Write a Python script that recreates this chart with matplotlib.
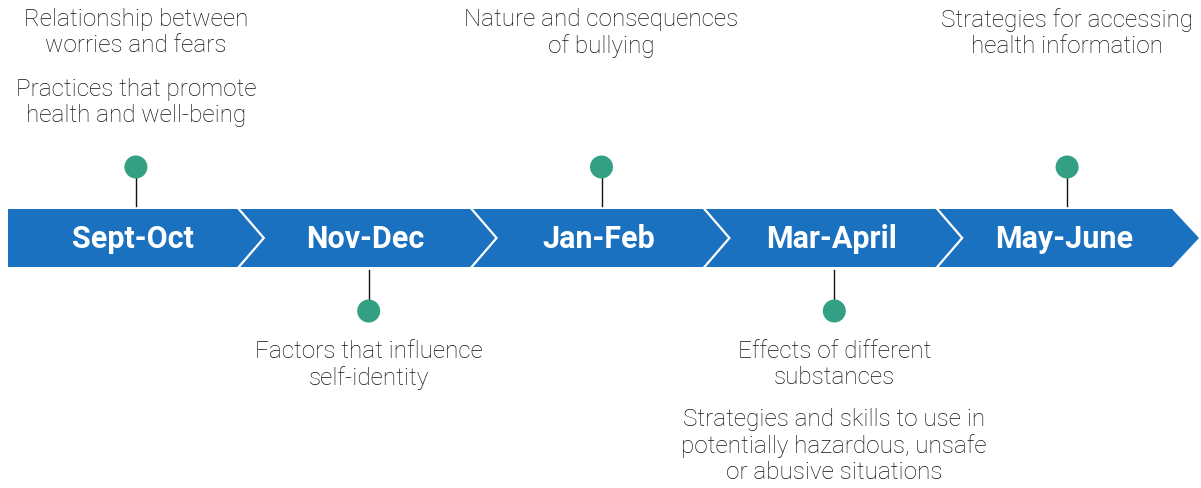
import matplotlib.pyplot as plt
from matplotlib.patches import Polygon, Circle

periods = ['Sept-Oct', 'Nov-Dec', 'Jan-Feb', 'Mar-April', 'May-June']
side = ['top', 'bottom', 'top', 'bottom', 'top']
topics = [
    ['Relationship between\nworries and fears', 'Practices that promote\nhealth and well-being'],
    ['Factors that influence\nself-identity'],
    ['Nature and consequences\nof bullying'],
    ['Effects of different\nsubstances',
     'Strategies and skills to use in\npotentially hazardous, unsafe\nor abusive situations'],
    ['Strategies for accessing\nhealth information'],
]

blue = '#1a71c0'
green = '#33a084'
W, H = 1201, 488

fig = plt.figure(figsize=(W / 100, H / 100), dpi=100)
ax = fig.add_axes([0, 0, 1, 1])
ax.set_xlim(0, W)
ax.set_ylim(H, 0)
ax.axis('off')

# band geometry (pixels)
x0, x1 = 8, 1172
top, bot = 209, 267
mid = (top + bot) / 2
d = 27
seg = (x1 - x0) / len(periods)

ax.add_patch(Polygon([(x0, top), (x1, top), (x1 + d, mid), (x1, bot), (x0, bot)],
                     closed=True, facecolor=blue, edgecolor='none'))
for i in range(1, len(periods)):
    s = x0 + i * seg - 2
    ax.plot([s, s + d - 2, s], [top, mid, bot], color='white', lw=1.6,
            solid_joinstyle='miter')

label_font = dict(family=['Roboto', 'DejaVu Sans'], fontweight='light', fontsize=17.5,
                  color='#111111', ha='center', va='top', linespacing=1.17)

for i, (p, sd, tl) in enumerate(zip(periods, side, topics)):
    cx = x0 + (i + 0.5) * seg + d / 2 - 2
    ax.text(cx - 3, mid + 1, p, color='white', fontsize=22, fontweight='bold',
            family=['Roboto', 'DejaVu Sans'], ha='center', va='center')
    if sd == 'top':
        cy = 167
        ax.plot([cx, cx], [cy, top - 3], color='#111111', lw=1.0)
        ys = [8, 78]
    else:
        cy = 311
        ax.plot([cx, cx], [bot + 3, cy], color='#111111', lw=1.0)
        ys = [340, 408]
    ax.add_patch(Circle((cx, cy), 11.5, facecolor=green, edgecolor='none', zorder=3))
    for t, y in zip(tl, ys):
        ax.text(cx, y, t, **label_font)

fig.savefig('out.png', dpi=100)
